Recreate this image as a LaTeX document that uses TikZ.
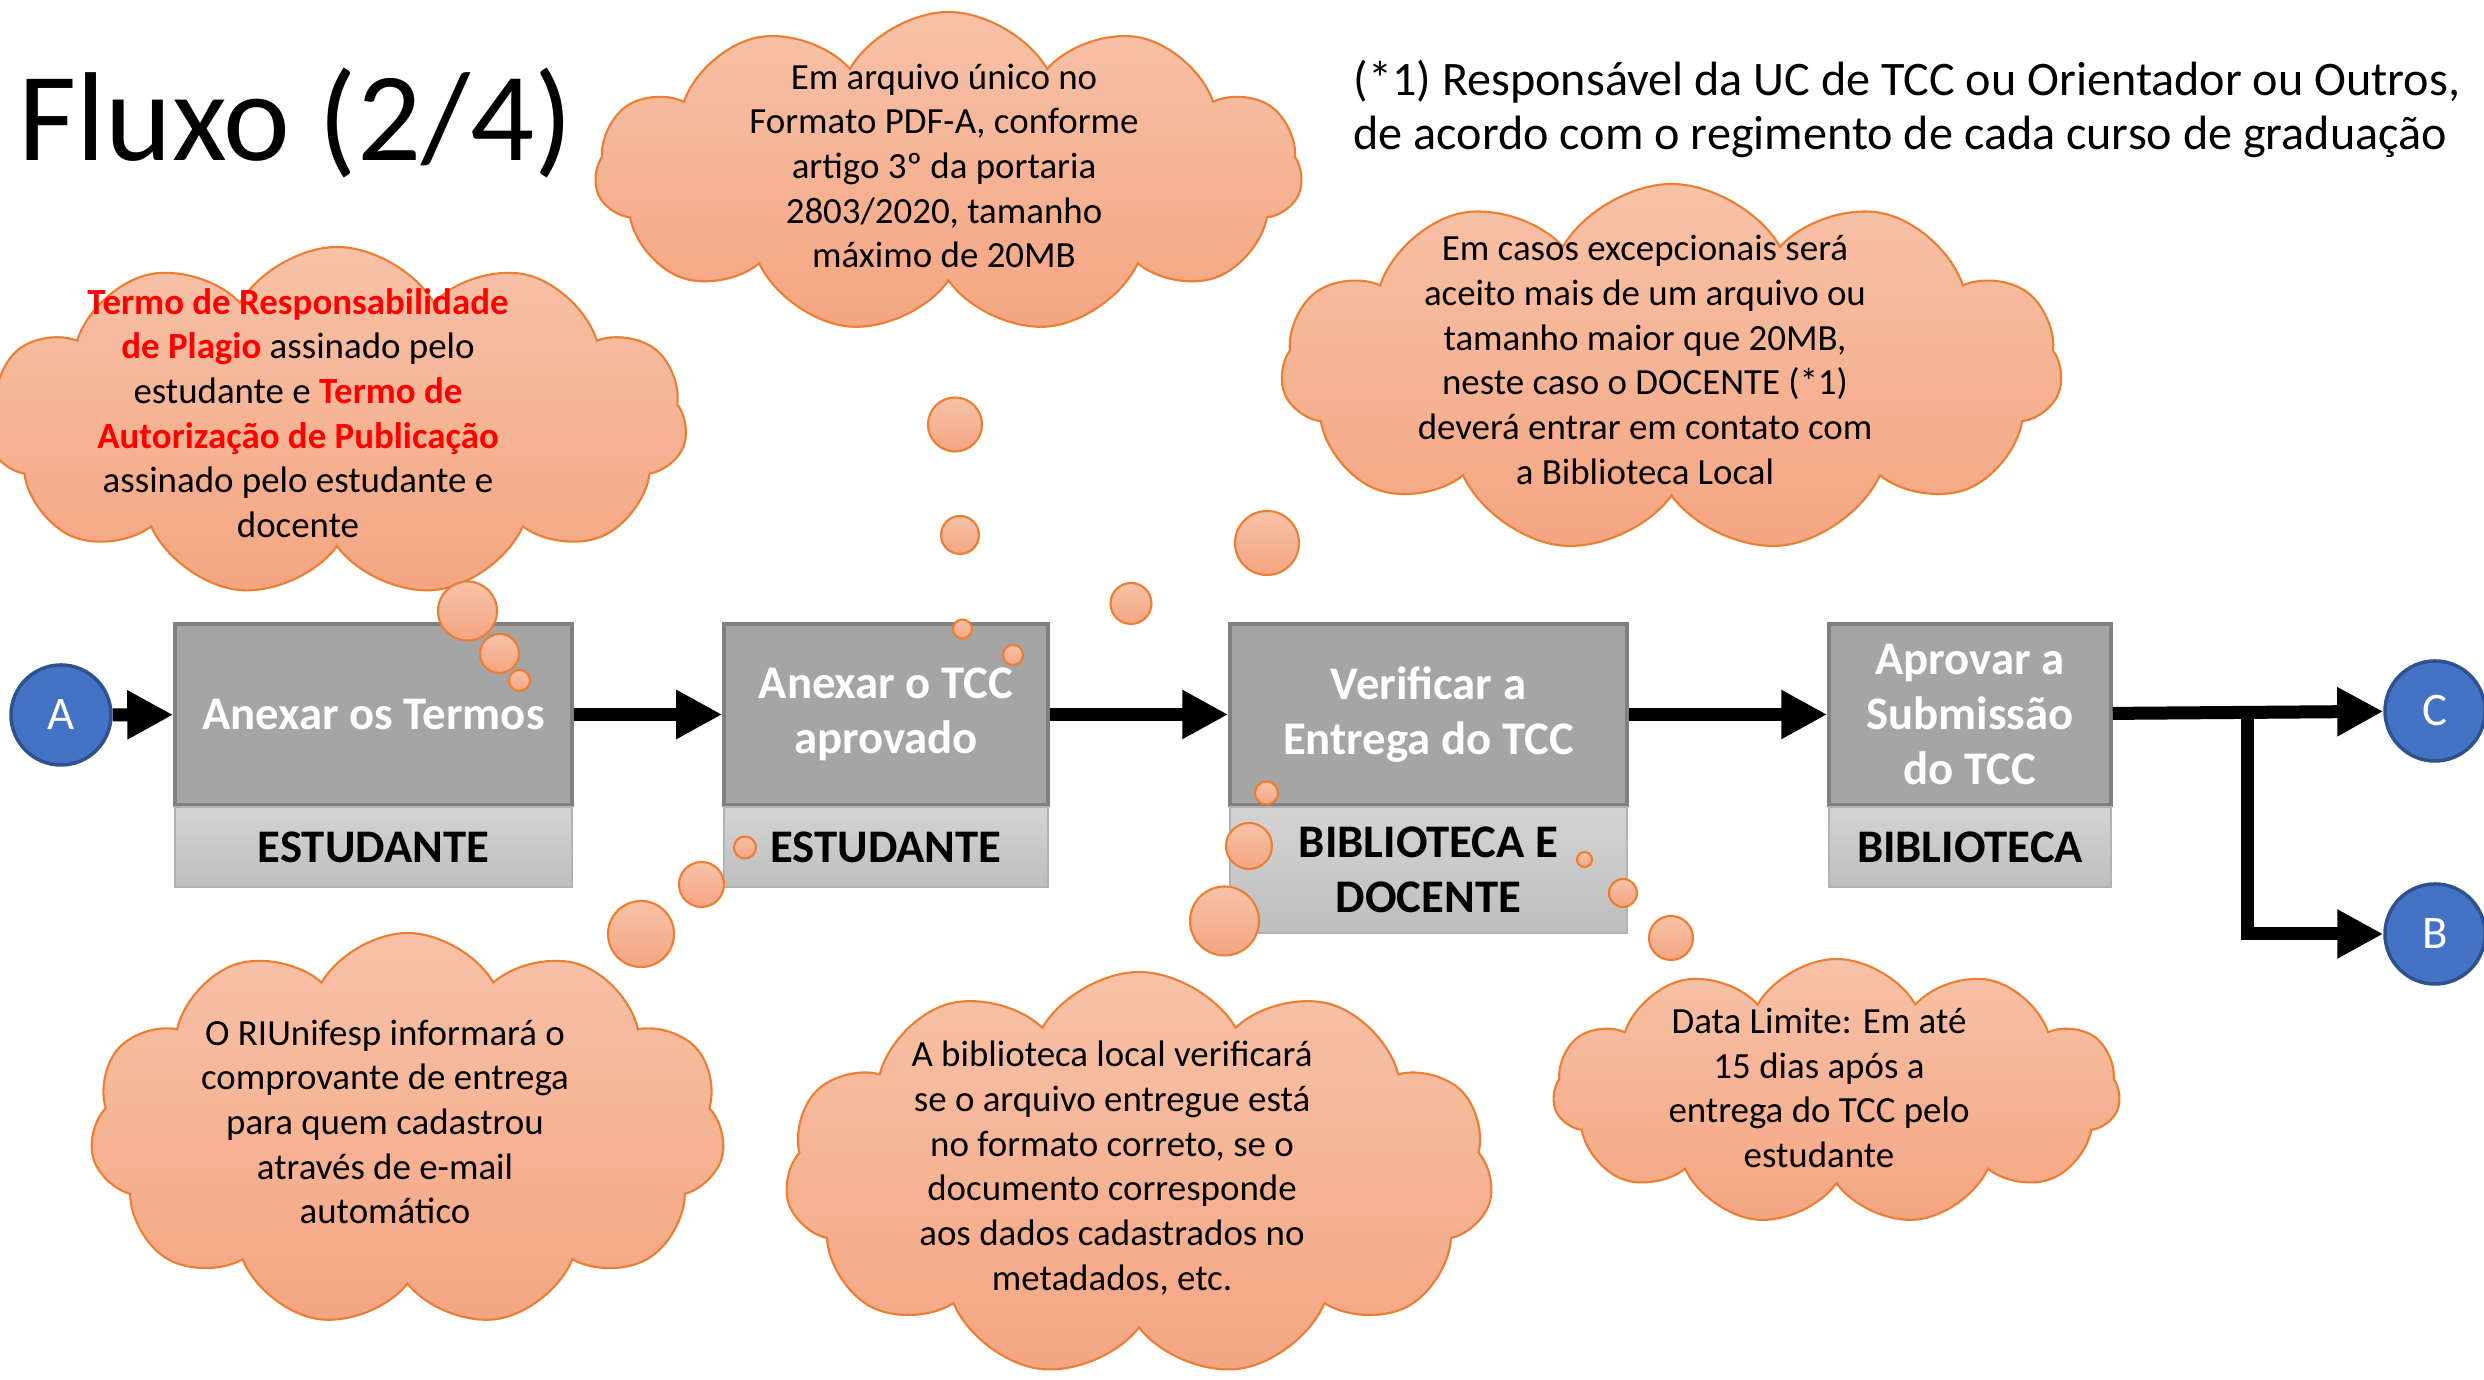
\documentclass[tikz,border=0pt]{standalone}
\usepackage{fontspec}
\setmainfont{Carlito}
\usepackage{tikz}
\usetikzlibrary{shapes,arrows.meta}

\definecolor{caixa}{HTML}{A5A5A5}
\definecolor{caixaborda}{HTML}{808080}
\definecolor{rotulotopo}{HTML}{D4D4D4}
\definecolor{rotulobase}{HTML}{BEBEBE}
\definecolor{azul}{HTML}{4472C4}
\definecolor{azulborda}{HTML}{2F528F}
\definecolor{nuvemtopo}{HTML}{F7C2A8}
\definecolor{nuvembase}{HTML}{F4A582}
\definecolor{laranja}{HTML}{ED7D31}

\newcommand{\destaque}[1]{\textcolor{red}{\textbf{#1}}}

\begin{document}
\begin{tikzpicture}[scale=1]

	\tikzstyle{etapa}=[draw=caixaborda, line width=1pt, fill=caixa, text=white, align=center, inner sep=0pt, font=\fontsize{13.3}{15.7}\selectfont\bfseries]
	\tikzstyle{rotulo}=[draw=black!30, top color=rotulotopo, bottom color=rotulobase, align=center, inner sep=0pt, font=\fontsize{13.3}{15.7}\selectfont\bfseries]
	\tikzstyle{conector}=[circle, draw=azulborda, line width=1pt, fill=azul, text=white, minimum size=1cm, inner sep=0pt, font=\fontsize{13.3}{16}\selectfont]
	\tikzstyle{nuvem}=[cloud, cloud puffs=11, cloud puff arc=120, cloud ignores aspect, draw=laranja, line width=0.6pt, top color=nuvemtopo, bottom color=nuvembase]
	\tikzstyle{bolha}=[circle, draw=laranja, line width=0.6pt, top color=nuvemtopo, bottom color=nuvembase, inner sep=0pt]
	\tikzstyle{texto}=[align=center, inner sep=0pt, font=\fontsize{10.5}{12.7}\selectfont]
	\tikzstyle{fluxo}=[line width=3.7pt, -{Triangle[length=4.6mm,width=4.6mm]}]

	\useasboundingbox (0,0) rectangle (24.84,13.8);

	\node[anchor=base west, inner sep=0pt, font=\fontsize{36}{40}\selectfont] (titulo) at (0.18,12.19) {Fluxo (2/4)};
	\node[anchor=west, align=left, inner sep=0pt, font=\fontsize{13.7}{15.3}\selectfont] (nota) at (13.53,12.71) {(*1) Responsável da UC de TCC ou Orientador ou Outros,\\de acordo com o regimento de cada curso de graduação};

	% nuvens
	\node[nuvem, minimum width=7cm, minimum height=3.5cm] (nuvemTermos) at (3.37,9.58) {};
	\node[nuvem, minimum width=7.07cm, minimum height=3.21cm] (nuvemArquivo) at (9.485,12.075) {};
	\node[nuvem, minimum width=7.81cm, minimum height=3.69cm] (nuvemCasos) at (16.715,10.115) {};
	\node[nuvem, minimum width=6.35cm, minimum height=3.94cm] (nuvemRecibo) at (4.075,2.5) {};
	\node[nuvem, minimum width=7.08cm, minimum height=4.05cm] (nuvemVerif) at (11.39,2.055) {};
	\node[nuvem, minimum width=5.67cm, minimum height=2.66cm] (nuvemPrazo) at (18.365,2.88) {};

	\node[texto] (txtTermos) at (2.98,9.67) {\destaque{Termo de Responsabilidade}\\\destaque{de Plagio} assinado pelo\\estudante e \destaque{Termo de}\\\destaque{Autorização de Publicação}\\assinado pelo estudante e\\docente};
	\node[texto] (txtArquivo) at (9.44,12.14) {Em arquivo único no\\Formato PDF-A, conforme\\artigo 3º da portaria\\2803/2020, tamanho\\máximo de 20MB};
	\node[texto] (txtCasos) at (16.45,10.2) {Em casos excepcionais será\\aceito mais de um arquivo ou\\tamanho maior que 20MB,\\neste caso o DOCENTE (*1)\\deverá entrar em contato com\\a Biblioteca Local};
	\node[texto] (txtRecibo) at (3.85,2.58) {O RIUnifesp informará o\\comprovante de entrega\\para quem cadastrou\\através de e-mail\\automático};
	\node[texto] (txtVerif) at (11.12,2.12) {A biblioteca local verificará\\se o arquivo entregue está\\no formato correto, se o\\documento corresponde\\aos dados cadastrados no\\metadados, etc.};
	\node[texto] (txtPrazo) at (18.19,2.92) {Data Limite: Em até\\15 dias após a\\entrega do TCC pelo\\estudante};

	% etapas
	\node[etapa, minimum width=3.97cm, minimum height=1.81cm] (termos) at (3.735,6.655) {Anexar os Termos};
	\node[etapa, minimum width=3.24cm, minimum height=1.81cm] (anexar) at (8.86,6.655) {Anexar o TCC\\aprovado};
	\node[etapa, minimum width=3.97cm, minimum height=1.81cm] (verificar) at (14.285,6.655) {Verificar a\\Entrega do TCC};
	\node[etapa, minimum width=2.82cm, minimum height=1.81cm] (aprovar) at (19.7,6.655) {Aprovar a\\Submissão\\do TCC};

	\node[rotulo, minimum width=3.97cm, minimum height=0.8cm] (quemTermos) at (3.735,5.33) {ESTUDANTE};
	\node[rotulo, minimum width=3.24cm, minimum height=0.8cm] (quemAnexar) at (8.86,5.33) {ESTUDANTE};
	\node[rotulo, minimum width=3.97cm, minimum height=1.26cm] (quemVerificar) at (14.285,5.1) {BIBLIOTECA E\\DOCENTE};
	\node[rotulo, minimum width=2.82cm, minimum height=0.8cm] (quemAprovar) at (19.7,5.33) {BIBLIOTECA};

	\node[conector] (A) at (0.61,6.65) {A};
	\node[conector] (C) at (24.35,6.69) {C};
	\node[conector] (B) at (24.35,4.46) {B};
	\coordinate (ramo) at (22.47,6.675);

	\draw[fluxo] (A) -- (termos);
	\draw[fluxo] (termos) -- (anexar);
	\draw[fluxo] (anexar) -- (verificar);
	\draw[fluxo] (verificar) -- (aprovar);
	\draw[fluxo] (aprovar) -- (C);
	\draw[fluxo] (ramo) |- (B);

	% bolhas
	\node[bolha, minimum size=0.59cm] (b1a) at (4.675,7.69) {};
	\node[bolha, minimum size=0.39cm] (b1b) at (4.995,7.265) {};
	\node[bolha, minimum size=0.21cm] (b1c) at (5.195,6.995) {};

	\node[bolha, minimum size=0.54cm] (b2a) at (9.55,9.555) {};
	\node[bolha, minimum size=0.38cm] (b2b) at (9.6,8.45) {};
	\node[bolha, minimum size=0.19cm] (b2c) at (9.625,7.51) {};

	\node[bolha, minimum size=0.64cm] (b3a) at (12.67,8.37) {};
	\node[bolha, minimum size=0.41cm] (b3b) at (11.31,7.765) {};
	\node[bolha, minimum size=0.2cm] (b3c) at (10.13,7.25) {};

	\node[bolha, minimum size=0.66cm] (b4a) at (6.41,4.46) {};
	\node[bolha, minimum size=0.45cm] (b4b) at (7.015,4.955) {};
	\node[bolha, minimum size=0.22cm] (b4c) at (7.45,5.325) {};

	\node[bolha, minimum size=0.69cm] (b5a) at (12.245,4.59) {};
	\node[bolha, minimum size=0.46cm] (b5b) at (12.49,5.34) {};
	\node[bolha, minimum size=0.23cm] (b5c) at (12.665,5.87) {};

	\node[bolha, minimum size=0.44cm] (b6a) at (16.71,4.42) {};
	\node[bolha, minimum size=0.28cm] (b6b) at (16.23,4.87) {};
	\node[bolha, minimum size=0.15cm] (b6c) at (15.845,5.205) {};

\end{tikzpicture}
\end{document}
